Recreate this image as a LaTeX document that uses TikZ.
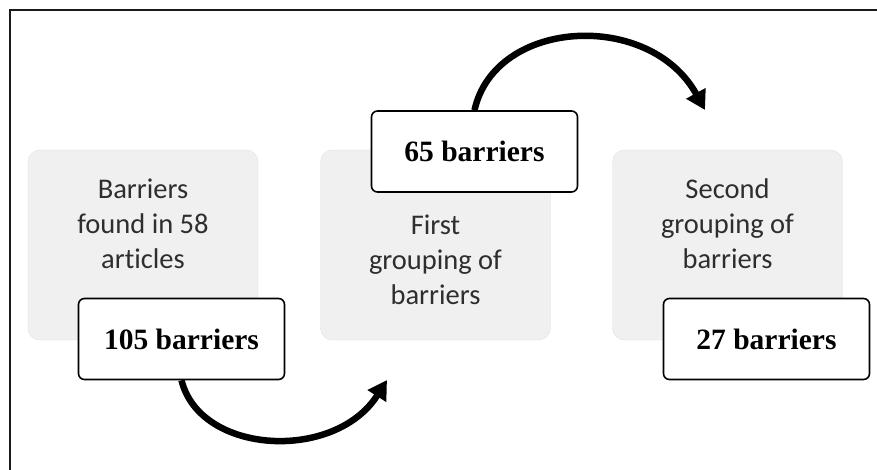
\documentclass[tikz,border=0pt]{standalone}
\usepackage{fontspec}
\setmainfont{Liberation Serif}
\newfontfamily\carlito[Ligatures=NoCommon]{Carlito}
\usetikzlibrary{arrows.meta}

\begin{document}
\begin{tikzpicture}[x=1pt,y=-1pt,
  graybox/.style={rounded corners=12pt,draw=black!12,fill=black!6,minimum width=230pt,minimum height=190pt,inner sep=0pt},
  numbox/.style={rounded corners=6pt,draw=black,line width=1.6pt,fill=white,minimum width=206pt,minimum height=81pt,inner sep=0pt,font=\fontsize{29.5}{34}\selectfont\bfseries},
  boxtext/.style={align=center,text=black!82,font=\carlito\fontsize{28.5}{35}\selectfont},
  bigarrow/.style={line width=6.5pt,-{Triangle[length=19pt,width=21pt]}}]
\useasboundingbox (0,0) rectangle (877,470);
\draw[line width=2.2pt,black!90] (10,470) -- (10,10) -- (877,10);

% grey steps
\node[graybox] (g1) at (143,245) {};
\node[graybox] (g2) at (435.5,245) {};
\node[graybox] (g3) at (727.5,245) {};
\node[boxtext] (t1) at (143,224) {Barriers\\found in 58\\articles};
\node[boxtext] (t2) at (435.5,260) {First\\grouping of\\barriers};
\node[boxtext] (t3) at (727.5,224) {Second\\grouping of\\barriers};

% counts
\node[numbox] (w1) at (181.5,339) {105 barriers};
\node[numbox] (w2) at (474.5,151.5) {65 barriers};
\node[numbox] (w3) at (766.5,339) {27 barriers};

% arrows
\coordinate (e1) at (387,380);
\coordinate (e2) at (705,110);
\draw[bigarrow] (w1.south) .. controls (200,455) and (335,462) .. (e1);
\draw[bigarrow] (w2.north) .. controls (495,18) and (650,10) .. (e2);
\end{tikzpicture}
\end{document}
